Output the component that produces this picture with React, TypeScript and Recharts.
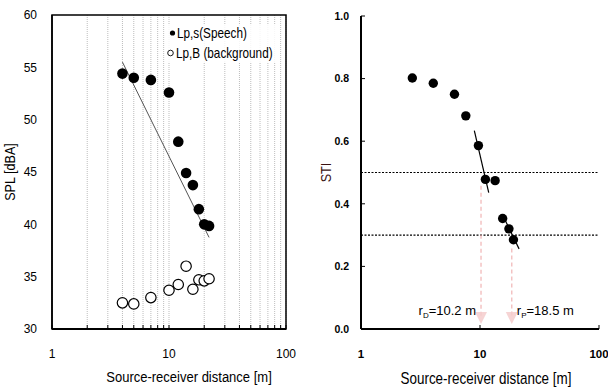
import {
  ScatterChart,
  Scatter,
  XAxis,
  YAxis,
  CartesianGrid,
  ReferenceLine,
  ReferenceArea,
  ReferenceDot,
  Label,
} from 'recharts';

// SPL vs distance
const splDistance = [4, 5, 7, 10, 12, 14, 16, 18, 20, 22];
const splSpeech = [54.4, 54.0, 53.8, 52.6, 47.9, 44.9, 43.75, 41.45, 40.0, 39.85];
const splBackground = [32.5, 32.4, 33.0, 33.7, 34.25, 36.0, 33.8, 34.7, 34.6, 34.8];
const splFitX = [4, 22];
const splFitY = [55.5, 38.75];

// STI vs distance
const stiDistance = [2.7, 4.05, 6.1, 7.6, 9.7, 11.1, 13.4, 15.5, 17.5, 19.1];
const stiValues = [0.802, 0.785, 0.75, 0.681, 0.586, 0.478, 0.474, 0.353, 0.32, 0.285];
const stiFitNearX = [8.96, 11.84];
const stiFitNearY = [0.634, 0.436];
const stiFitFarX = [15.6, 21.3];
const stiFitFarY = [0.362, 0.256];
const stiThresholds = [0.5, 0.3];
const criticalDistance = [10.2, 18.5];
const criticalSub = ['D', 'P'];
const criticalStart = [0.458, 0.257];

// axis ticks
const logTicks = [1, 2, 3, 4, 5, 6, 7, 8, 9, 10, 20, 30, 40, 50, 60, 70, 80, 90, 100];
const decadeTicks = [1, 10, 100];
const splTicks = [30, 35, 40, 45, 50, 55, 60];
const stiTicks = [0, 0.2, 0.4, 0.6, 0.8, 1.0];

const speechData = splDistance.map((x, i) => ({ x, y: splSpeech[i] }));
const backgroundData = splDistance.map((x, i) => ({ x, y: splBackground[i] }));
const stiData = stiDistance.map((x, i) => ({ x, y: stiValues[i] }));

const FONT = '"Liberation Sans", Arial, sans-serif';
// titles are set in a tall font squeezed horizontally (narrow face look)
const SQUEEZE = 0.84;

const filledDot = (r: number) => (p: any) => <circle cx={p.cx} cy={p.cy} r={r} fill="#000" />;
const openDot = (p: any) => (
  <circle cx={p.cx} cy={p.cy} r={5.2} fill="#fff" stroke="#000" strokeWidth={1.2} />
);

const xTitle = (shift: number, baseline: number, size: number) => (props: any) => {
  const vb = props.viewBox;
  const cx = vb.x + vb.width / 2 + shift;
  return (
    <text
      transform={`translate(${cx}, ${baseline}) scale(${SQUEEZE}, 1)`}
      textAnchor="middle"
      fontSize={size}
      fill="#000"
    >
      Source-receiver distance [m]
    </text>
  );
};

const yTitle = (text: string, bx: number, size: number, color: string) => (props: any) => {
  const vb = props.viewBox;
  const cy = vb.y + vb.height / 2;
  return (
    <text
      transform={`translate(${bx}, ${cy}) rotate(-90) scale(${SQUEEZE}, 1)`}
      textAnchor="middle"
      fontSize={size}
      fill={color}
    >
      {text}
    </text>
  );
};

// pink arrow head sitting on the x axis plus the r = ... label
const arrowMark = (i: number) => (p: any) => {
  const { cx, cy } = p;
  const left = i === 0;
  return (
    <g>
      <polygon
        points={`${cx - 6},${cy - 17} ${cx + 6},${cy - 17} ${cx},${cy - 5}`}
        fill="#f5cccc"
        opacity={0.85}
      />
      <text
        x={left ? cx - 5 : cx + 5}
        y={cy - 14}
        textAnchor={left ? 'end' : 'start'}
        fontSize={13}
        fill="#000"
      >
        r<tspan fontSize={8} dy={3}>{criticalSub[i]}</tspan>
        <tspan dy={-3}>={criticalDistance[i].toFixed(1)} m</tspan>
      </text>
    </g>
  );
};

function SplChart() {
  return (
    <div style={{ position: 'absolute', left: 0, top: 0, width: 300, height: 389 }}>
      <ScatterChart width={300} height={389} margin={{ top: 15, right: 14, bottom: 0, left: 0 }}>
        <CartesianGrid horizontal={false} stroke="#bdbdbd" strokeDasharray="1 1" />
        <XAxis
          type="number"
          dataKey="x"
          scale="log"
          domain={[1, 100]}
          ticks={logTicks}
          interval={0}
          allowDataOverflow
          height={60}
          tickSize={-4}
          tickMargin={24}
          tickFormatter={(v: number) => (decadeTicks.includes(v) ? String(v) : '')}
          axisLine={{ stroke: '#000', strokeWidth: 2 }}
          tickLine={{ stroke: '#000' }}
          tick={{ fill: '#000', fontSize: 12 }}
        >
          <Label content={xTitle(20, 382, 15.5)} />
        </XAxis>
        <YAxis
          type="number"
          dataKey="y"
          domain={[30, 60]}
          ticks={splTicks}
          interval={0}
          width={52}
          tickSize={0}
          tickMargin={15}
          axisLine={{ stroke: '#000', strokeWidth: 1.5 }}
          tickLine={false}
          tick={{ fill: '#000', fontSize: 12 }}
        >
          <Label content={yTitle('SPL [dBA]', 15, 15, '#000')} />
        </YAxis>
        <ReferenceArea x1={1} x2={100} y1={30} y2={60} fill="none" stroke="#000" strokeWidth={1.5} />
        <ReferenceLine
          segment={[
            { x: splFitX[0], y: splFitY[0] },
            { x: splFitX[1], y: splFitY[1] },
          ]}
          stroke="#555"
          strokeWidth={1}
        />
        <Scatter data={backgroundData} shape={openDot} isAnimationActive={false} />
        <Scatter data={speechData} shape={filledDot(5.3)} isAnimationActive={false} />
      </ScatterChart>
      <svg width={300} height={389} style={{ position: 'absolute', left: 0, top: 0, pointerEvents: 'none' }}>
        <rect x={166} y={24} width={112} height={38} fill="#fff" opacity={0.85} />
        <circle cx={172.5} cy={33} r={2.6} fill="#000" />
        <text transform={`translate(177, 38) scale(${SQUEEZE}, 1)`} fontSize={14} fill="#000">
          Lp,s(Speech)
        </text>
        <circle cx={170.5} cy={53} r={2.8} fill="#fff" stroke="#000" strokeWidth={0.9} />
        <text transform={`translate(176, 58) scale(${SQUEEZE}, 1)`} fontSize={14} fill="#000">
          Lp,B (background)
        </text>
      </svg>
    </div>
  );
}

function StiChart() {
  return (
    <div style={{ position: 'absolute', left: 300, top: 0, width: 308, height: 389 }}>
      <ScatterChart width={308} height={389} margin={{ top: 16, right: 9, bottom: 0, left: 0 }}>
        <XAxis
          type="number"
          dataKey="x"
          scale="log"
          domain={[1, 100]}
          ticks={decadeTicks}
          interval={0}
          allowDataOverflow
          height={60}
          tickSize={-4}
          tickMargin={25}
          axisLine={{ stroke: '#000', strokeWidth: 2 }}
          tickLine={{ stroke: '#000' }}
          tick={{ fill: '#000', fontSize: 11.5, fontWeight: 'bold' }}
        >
          <Label content={xTitle(6, 384, 16)} />
        </XAxis>
        <YAxis
          type="number"
          dataKey="y"
          domain={[0, 1]}
          ticks={stiTicks}
          interval={0}
          width={61}
          tickSize={-4}
          tickMargin={16}
          tickFormatter={(v: number) => v.toFixed(1)}
          axisLine={{ stroke: '#000', strokeWidth: 2 }}
          tickLine={{ stroke: '#000' }}
          tick={{ fill: '#000', fontSize: 10.5, fontWeight: 'bold' }}
        >
          <Label content={yTitle('STI', 31, 15, '#3a1212')} />
        </YAxis>
        {stiThresholds.map((t) => (
          <ReferenceLine key={t} y={t} stroke="#000" strokeDasharray="2 1.5" strokeWidth={1.2} />
        ))}
        {criticalDistance.map((d, i) => (
          <ReferenceLine
            key={`v${d}`}
            segment={[
              { x: d, y: criticalStart[i] },
              { x: d, y: 0.04 },
            ]}
            stroke="#f0b4b4"
            strokeDasharray="4 3"
            strokeWidth={1.2}
          />
        ))}
        {criticalDistance.map((d, i) => (
          <ReferenceDot key={`a${d}`} x={d} y={0} r={0} shape={arrowMark(i)} />
        ))}
        <ReferenceLine
          segment={[
            { x: stiFitNearX[0], y: stiFitNearY[0] },
            { x: stiFitNearX[1], y: stiFitNearY[1] },
          ]}
          stroke="#000"
          strokeWidth={1.2}
        />
        <ReferenceLine
          segment={[
            { x: stiFitFarX[0], y: stiFitFarY[0] },
            { x: stiFitFarX[1], y: stiFitFarY[1] },
          ]}
          stroke="#000"
          strokeWidth={1.2}
        />
        <Scatter data={stiData} shape={filledDot(4.7)} isAnimationActive={false} />
      </ScatterChart>
    </div>
  );
}

export default function App() {
  return (
    <div
      style={{
        position: 'absolute',
        left: 0,
        top: 0,
        width: 608,
        height: 389,
        background: '#fff',
        fontFamily: FONT,
        overflow: 'hidden',
      }}
    >
      <SplChart />
      <StiChart />
    </div>
  );
}
